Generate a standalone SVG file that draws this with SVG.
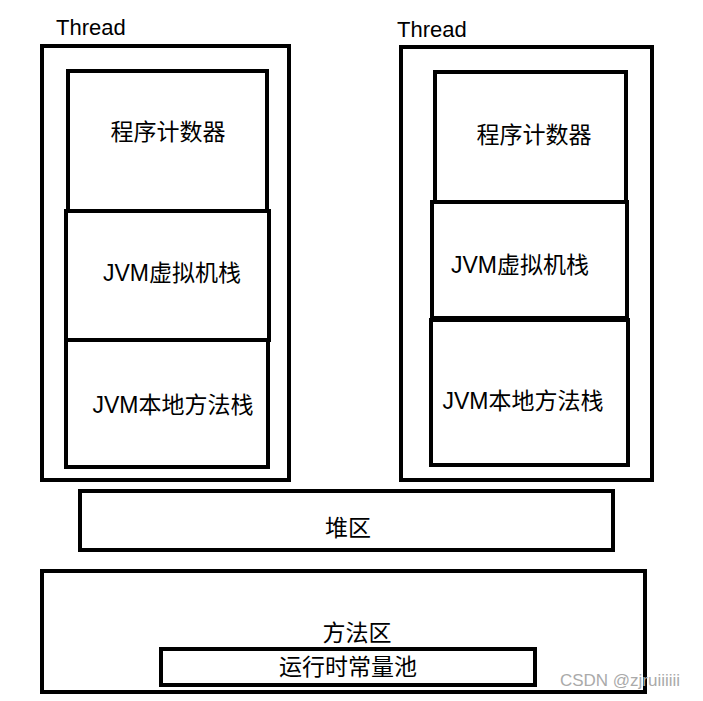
<svg xmlns="http://www.w3.org/2000/svg" width="703" height="701" viewBox="0 0 703 701">
<style>
rect{fill:none;stroke:#000;stroke-width:4}
text{font-family:"Liberation Sans","Noto Sans CJK SC",sans-serif;font-size:23px;fill:#000;text-anchor:middle}
.t{font-size:22px;text-anchor:start}
</style>
<rect x="0" y="0" width="703" height="701" style="fill:#fff;stroke:none"/>
<g id="thread1">
<text class="t" x="56" y="35">Thread</text>
<rect x="42" y="46" width="247" height="434"/>
<g id="pc1"><rect x="68" y="71" width="199" height="140"/><text x="168" y="140">程序计数器</text></g>
<g id="jvm1"><rect x="66" y="211" width="203" height="129"/><text x="172" y="281">JVM虚拟机栈</text></g>
<g id="native1"><rect x="66" y="340" width="202" height="127"/><text x="173" y="413">JVM本地方法栈</text></g>
</g>
<g id="thread2">
<text class="t" x="397" y="37">Thread</text>
<rect x="401" y="47" width="251" height="433"/>
<g id="pc2"><rect x="435" y="72" width="191" height="130"/><text x="534" y="143">程序计数器</text></g>
<g id="jvm2"><rect x="432" y="202" width="195" height="116"/><text x="520" y="273">JVM虚拟机栈</text></g>
<g id="native2"><rect x="431" y="320" width="197" height="145"/><text x="523" y="409">JVM本地方法栈</text></g>
</g>
<g id="heap"><rect x="80" y="491" width="533" height="59"/><text x="348" y="536">堆区</text></g>
<g id="method"><rect x="42" y="571" width="603" height="121"/><text x="357" y="641">方法区</text></g>
<g id="pool"><rect x="161" y="649" width="374" height="36"/><text x="348" y="675">运行时常量池</text></g>
<g id="connectors"></g>
<text x="620" y="686" style="font-size:17px;fill:#aaa">CSDN @zjruiiiiii</text>
</svg>
